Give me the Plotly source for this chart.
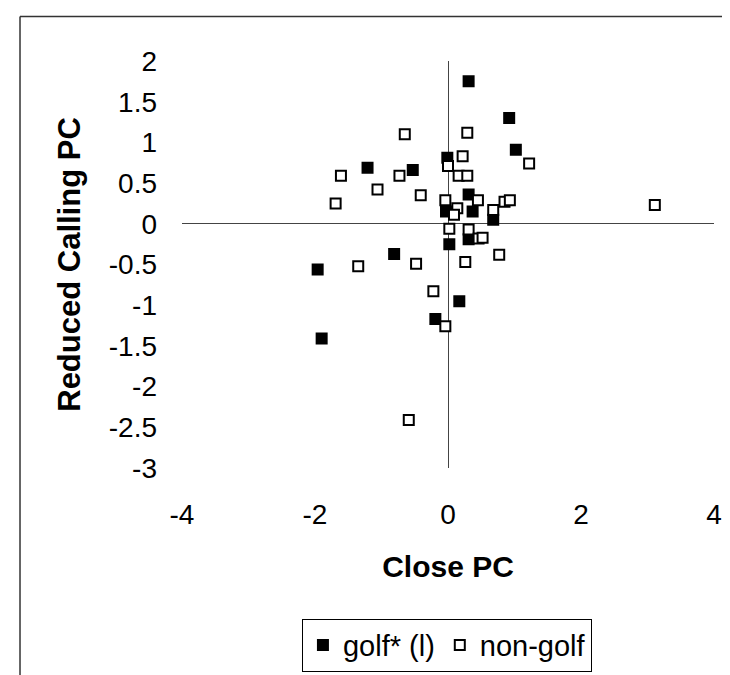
import plotly.graph_objects as go

# ---- data ----
golf_x = [0.31, 0.92, 1.02, -1.21, -0.53, -0.01, 0.31, 0.37, -0.03, 0.68,
          0.31, 0.02, -0.81, -1.96, 0.17, -0.19, -1.90]
golf_y = [1.75, 1.30, 0.91, 0.69, 0.66, 0.81, 0.36, 0.15, 0.15, 0.05,
          -0.19, -0.25, -0.37, -0.56, -0.95, -1.17, -1.41]

nongolf_x = [-0.65, 0.29, 0.22, 1.22, 0.00, -1.61, -0.73, 0.16, 0.29, -1.06,
             -0.41, -1.69, -0.04, 0.45, 0.85, 0.93, 0.14, 0.09, 0.68, 0.02,
             0.31, 0.46, 0.52, 0.77, -1.35, -0.48, 0.26, -0.22, -0.04, -0.59,
             3.11]
nongolf_y = [1.10, 1.12, 0.83, 0.74, 0.71, 0.59, 0.59, 0.59, 0.59, 0.42,
             0.35, 0.25, 0.29, 0.29, 0.27, 0.29, 0.19, 0.11, 0.17, -0.06,
             -0.07, -0.18, -0.17, -0.38, -0.52, -0.49, -0.47, -0.83, -1.26, -2.41,
             0.23]

x_tickvals = [-4, -2, 0, 2, 4]
x_ticktext = ["-4", "-2", "0", "2", "4"]
y_tickvals = [2, 1.5, 1, 0.5, 0, -0.5, -1, -1.5, -2, -2.5, -3]
y_ticktext = ["2", "1.5", "1", "0.5", "0", "-0.5", "-1", "-1.5", "-2", "-2.5", "-3"]

series_names = ["golf* (l)", "non-golf"]

FONT = "Liberation Sans, Arial, sans-serif"

fig = go.Figure()
fig.add_trace(go.Scatter(
    x=golf_x, y=golf_y, mode="markers", name=series_names[0],
    marker=dict(symbol="square", size=10, color="black",
                line=dict(color="black", width=2)),
))
fig.add_trace(go.Scatter(
    x=nongolf_x, y=nongolf_y, mode="markers", name=series_names[1],
    marker=dict(symbol="square", size=10, color="white",
                line=dict(color="black", width=2)),
))

fig.update_layout(
    width=730, height=675,
    margin=dict(l=174, r=24, t=53, b=211, pad=0),
    paper_bgcolor="white", plot_bgcolor="white",
    font=dict(family=FONT, color="black", size=28),
    showlegend=True,
    legend=dict(
        orientation="h", x=0.498, xanchor="center", y=-0.37, yanchor="top",
        bordercolor="black", borderwidth=1, bgcolor="white",
        font=dict(family=FONT, size=29, color="black"),
        itemsizing="trace", tracegroupgap=0,
    ),
    xaxis=dict(
        range=[-4, 4], tickvals=x_tickvals, ticktext=x_ticktext,
        showgrid=False, showline=False, ticks="",
        zeroline=True, zerolinecolor="#444444", zerolinewidth=1.2,
        ticklabelstandoff=27,
        tickfont=dict(family=FONT, size=28),
        title=dict(text="<b>Close PC</b>", font=dict(family=FONT, size=30), standoff=26),
    ),
    yaxis=dict(
        range=[-3, 2], tickvals=y_tickvals, ticktext=y_ticktext,
        showgrid=False, showline=False, ticks="",
        zeroline=True, zerolinecolor="#444444", zerolinewidth=1.2,
        ticklabelstandoff=24,
        tickfont=dict(family=FONT, size=28),
        title=dict(text="<b>Reduced Calling PC</b>", font=dict(family=FONT, size=31), standoff=18),
    ),
    shapes=[
        dict(type="line", xref="paper", yref="paper",
             x0=-0.3045, x1=1.05, y0=1.1095, y1=1.1095,
             line=dict(color="#333333", width=1.5)),
        dict(type="line", xref="paper", yref="paper",
             x0=-0.3045, x1=-0.3045, y0=1.1095, y1=-0.52,
             line=dict(color="#333333", width=1.5)),
    ],
)

fig.write_html("out.html", config={"displayModeBar": False})
